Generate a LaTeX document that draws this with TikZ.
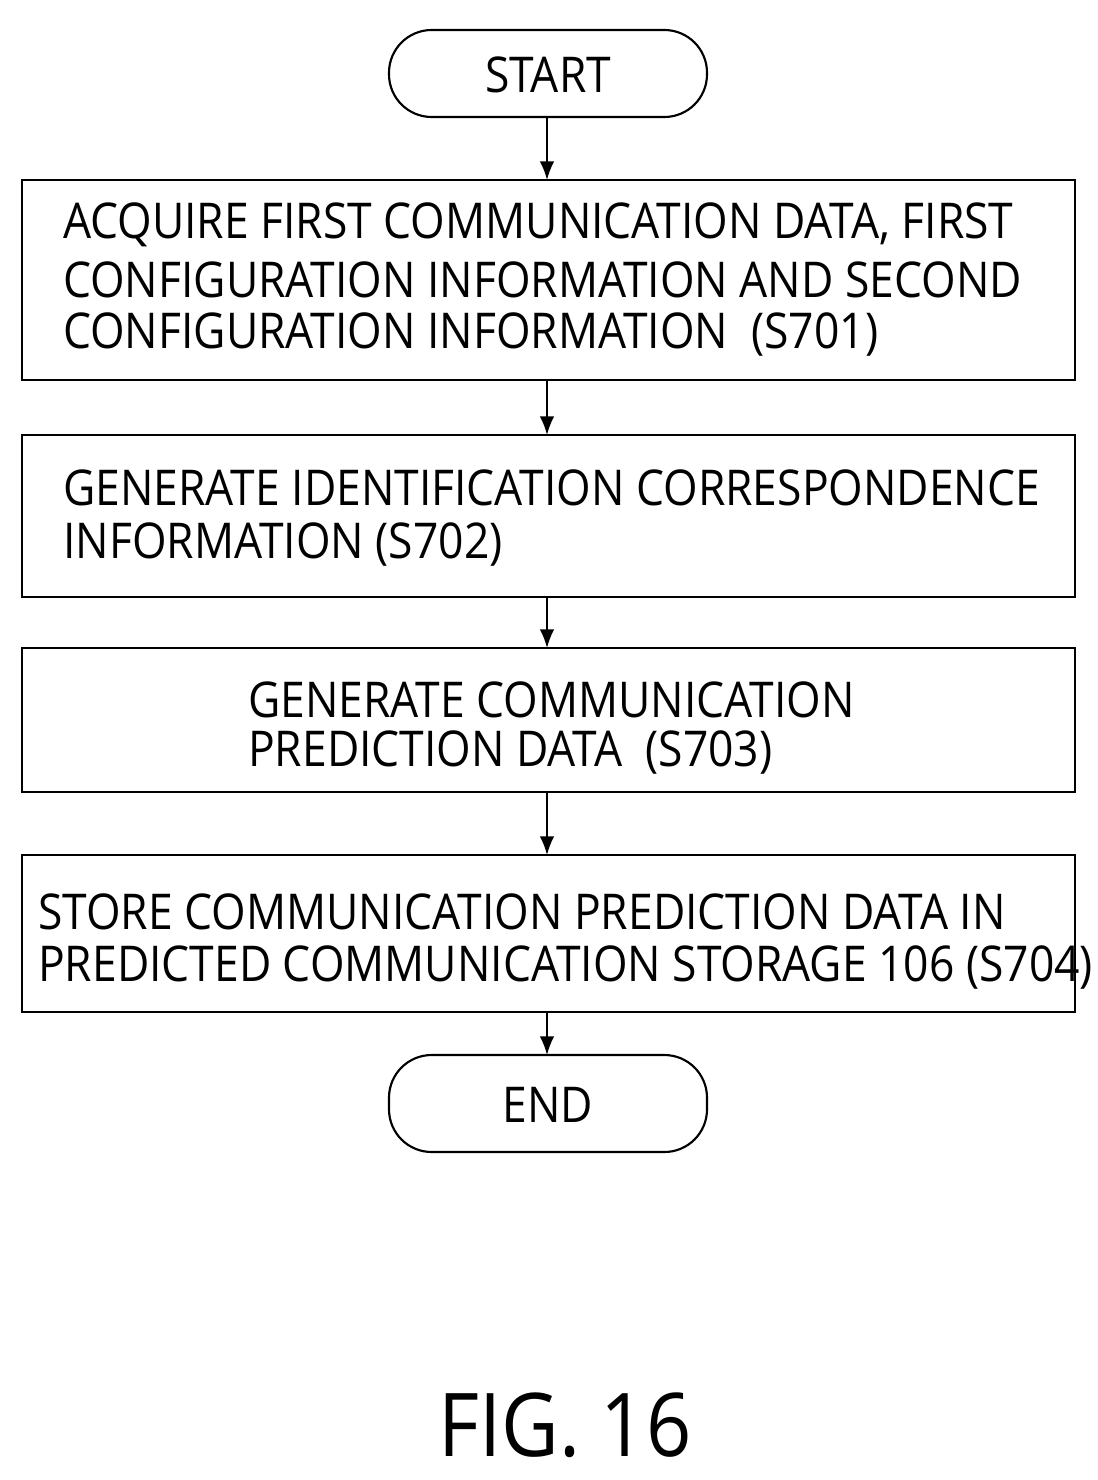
\documentclass[tikz,border=0pt]{standalone}
\usepackage{fontspec}
\setmainfont[FakeStretch=0.9]{Open Sans}
\usetikzlibrary{arrows.meta}
\begin{document}
\begin{tikzpicture}[x=0.75pt,y=-0.75pt,
 box/.style={draw,line width=2.2pt},
 pill/.style={draw,line width=1.6pt,rounded corners=32pt},
 txt/.style={anchor=west,inner sep=0pt,font=\fontsize{37}{41}\selectfont},
 arr/.style={line width=1.5pt,-{Latex[length=14pt,width=11pt]}}]
\useasboundingbox (0,0) rectangle (1097,1480);
\draw[pill] (389,30) rectangle (707,117);
\node[inner sep=0pt,font=\fontsize{37}{41}\selectfont] (s) at (548,75) {START};
\coordinate (st) at (547,117);
\draw[box] (22,180) rectangle (1075,380); \coordinate (b1t) at (547,180); \coordinate (b1b) at (547,380);
\draw[box] (22,435) rectangle (1075,597); \coordinate (b2t) at (547,435); \coordinate (b2b) at (547,597);
\draw[box] (22,648) rectangle (1075,792); \coordinate (b3t) at (547,648); \coordinate (b3b) at (547,792);
\draw[box] (22,855) rectangle (1075,1012); \coordinate (b4t) at (547,855); \coordinate (b4b) at (547,1012);
\draw[pill] (389,1055) rectangle (707,1152); \coordinate (et) at (547,1055);
\node[inner sep=0pt,font=\fontsize{37}{41}\selectfont] (e) at (548,1105) {END};
\node[txt] (t11) at (63,225) {ACQUIRE FIRST COMMUNICATION DATA, FIRST};
\node[txt] (t12) at (63,280) {CONFIGURATION INFORMATION AND SECOND};
\node[txt] (t13) at (63,335) {CONFIGURATION INFORMATION \ (S701)};
\node[txt] (t21) at (63,488) {GENERATE IDENTIFICATION CORRESPONDENCE};
\node[txt] (t22) at (63,545) {INFORMATION (S702)};
\node[txt] (t31) at (248,700) {GENERATE COMMUNICATION};
\node[txt] (t32) at (248,753) {PREDICTION DATA \ (S703)};
\node[txt] (t41) at (38,912) {STORE COMMUNICATION PREDICTION DATA IN};
\node[txt] (t42) at (38,968) {PREDICTED COMMUNICATION STORAGE 106 (S704)};
\node[inner sep=0pt,font=\fontsize{66}{70}\selectfont] (fig) at (565,1425) {FIG. 16};
\draw[arr] (st) -- (b1t);
\draw[arr] (b1b) -- (b2t);
\draw[arr] (b2b) -- (b3t);
\draw[arr] (b3b) -- (b4t);
\draw[arr] (b4b) -- (et);
\end{tikzpicture}
\end{document}
